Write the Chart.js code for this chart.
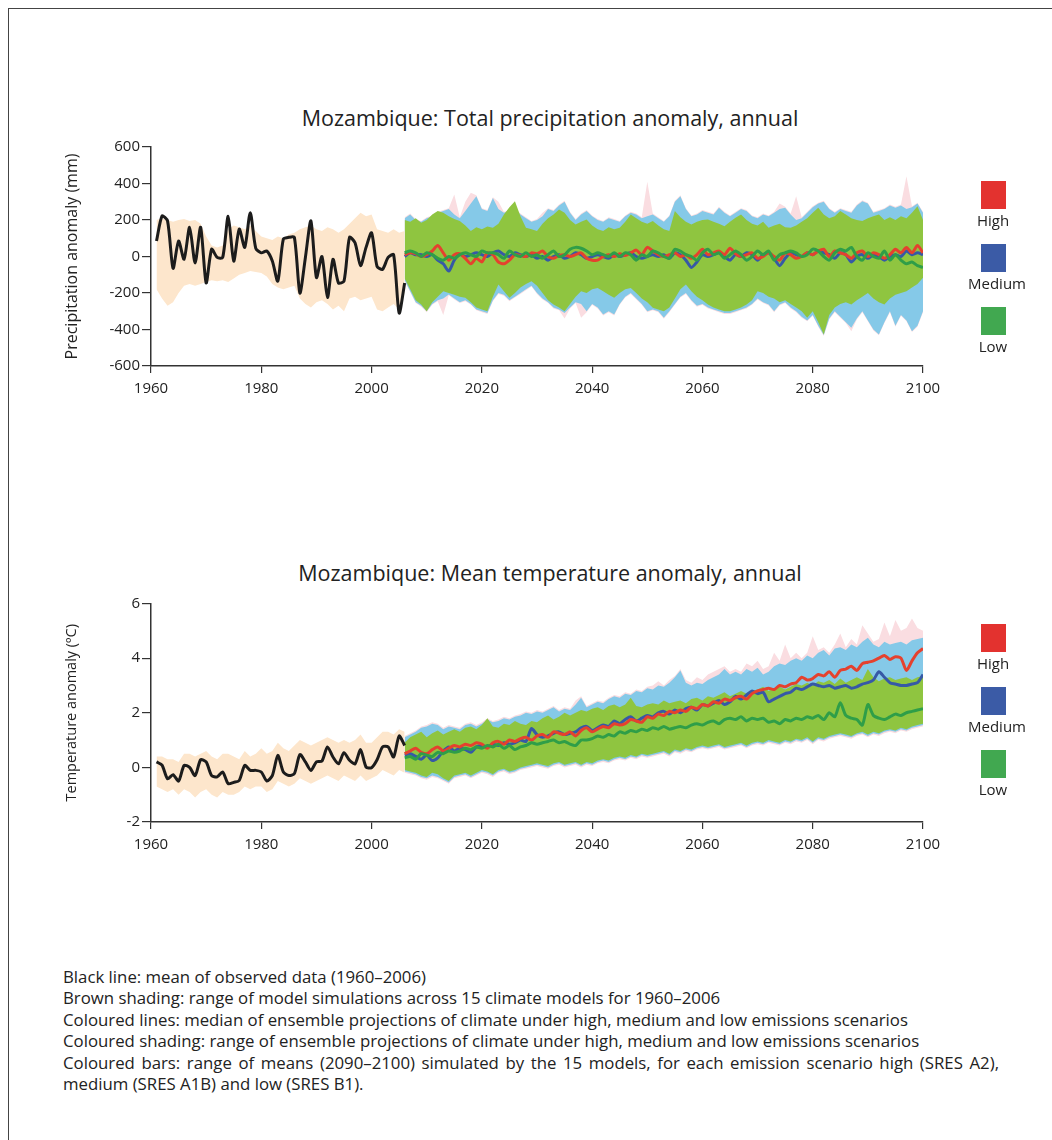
<!DOCTYPE html>
<html>
<head>
<meta charset="utf-8">
<title>Mozambique climate anomalies</title>
<script src="https://cdn.jsdelivr.net/npm/chart.js@4.4.0/dist/chart.umd.min.js"></script>
<style>
  body { margin: 0; background: #fff; font-family: "Open Sans", sans-serif; color: #222; }
  #page { position: relative; width: 1052px; height: 1140px; overflow: hidden; }
  #frame { position: absolute; left: 8px; top: 8px; width: 1100px; height: 1200px;
           border-left: 1.5px solid #444; border-top: 1.5px solid #444; }
  .title { position: absolute; left: 0; width: 1100px; text-align: center;
           font-size: 21.5px; line-height: 24px; white-space: nowrap; }
  canvas { position: absolute; left: 0; }
  .legend { position: absolute; left: 968px; width: 50px; text-align: center; font-size: 15px; }
  .legend .box { width: 25px; height: 28px; margin: 0 auto; }
  .legend .lab { line-height: 20px; height: 35px; padding-top: 1px; box-sizing: border-box; }
  #notes { position: absolute; left: 63px; top: 966px; width: 936px;
           font-size: 16.8px; line-height: 21.4px; }
  #notes div { white-space: nowrap; }
  #notes .just { text-align: justify; text-align-last: justify; }
</style>
</head>
<body>
<div id="page">
  <div id="frame"></div>

  <div class="title" style="top:106px">Mozambique: Total precipitation anomaly, annual</div>
  <canvas id="precip" width="1052" height="270" style="top:130px"></canvas>
  <div class="legend" style="top:181px">
    <div class="box" style="background:#e3322f"></div><div class="lab">High</div>
    <div class="box" style="background:#3b5ba6"></div><div class="lab">Medium</div>
    <div class="box" style="background:#41a850"></div><div class="lab">Low</div>
  </div>

  <div class="title" style="top:561px">Mozambique: Mean temperature anomaly, annual</div>
  <canvas id="temp" width="1052" height="276" style="top:580px"></canvas>
  <div class="legend" style="top:624px">
    <div class="box" style="background:#e3322f"></div><div class="lab">High</div>
    <div class="box" style="background:#3b5ba6"></div><div class="lab">Medium</div>
    <div class="box" style="background:#41a850"></div><div class="lab">Low</div>
  </div>

  <div id="notes">
    <div>Black line: mean of observed data (1960–2006)</div>
    <div>Brown shading: range of model simulations across 15 climate models for 1960–2006</div>
    <div>Coloured lines: median of ensemble projections of climate under high, medium and low emissions scenarios</div>
    <div>Coloured shading: range of ensemble projections of climate under high, medium and low emissions scenarios</div>
    <div class="just">Coloured bars: range of means (2090–2100) simulated by the 15 models, for each emission scenario high (SRES A2),</div>
    <div>medium (SRES A1B) and low (SRES B1).</div>
  </div>
</div>

<script>
// observed years start at 1961, projections at 2006 (one value per year)
var obsStart = 1961;
var projStart = 2006;

// ---- precipitation (mm) ----
var obsPrecip = [85, 222, 195, -65, 85, -15, 160, -35, 160, -145, 40, -5, -5, 220, -25, 150, 50, 240, 45, 20,
  30, -25, -135, 95, 105, 105, -200, -5, 195, -115, 0, -225, -15, -145, -135, 105, 75, -50, 50, 130,
  -55, -70, -5, 10, -310, -145];
var histHiPrecip = [200, 210, 200, 190, 200, 205, 195, 200, 180, 110, 60, 50, 60, 150, 170, 160, 150, 170, 140, 110,
  100, 90, 110, 100, 120, 130, 150, 160, 170, 150, 140, 160, 150, 130, 150, 180, 210, 240, 220, 230,
  150, 140, 130, 150, 130, 140];
var histLoPrecip = [-180, -230, -270, -250, -200, -160, -150, -160, -150, -140, -130, -135, -130, -140, -120, -100, -90, -80, -85, -90,
  -110, -150, -170, -180, -170, -160, -230, -260, -280, -250, -240, -260, -290, -270, -300, -230, -220, -240, -230, -220,
  -290, -300, -280, -260, -290, -200];

var highMedPrecip = [10, 20, 15, 0, 10, 30, 60, 20, -20, 10,
  15, -10, -40, -10, -30, 20, 10, -30, -40, -20,
  10, 5, 0, 20, 15, 30, 0, -10, 5, 10,
  0, 10, 20, -10, -20, -20, 0, 10, 0, 15,
  5, 20, 35, 10, 50, 30, 10, 0, 10, 20,
  0, 10, -10, 10, 40, 10, 20, 30, 10, 45,
  15, 0, 10, 20, -10, 0, 20, 0, -20, 20,
  10, -10, 0, 20, 10, 30, 40, 0, 30, 20,
  10, -10, 20, 30, 0, 20, 10, -10, 10, 40,
  20, 50, 20, 60, 20];
var medMedPrecip = [0, 20, 10, 10, 0, 10, -20, -40, -80, -20,
  10, 0, 10, 20, 10, 0, 20, 30, 10, 0,
  20, 10, 0, 10, -10, 0, -20, 0, 10, -10,
  0, 20, 10, -10, 0, 10, 0, -10, 10, 0,
  10, 20, 0, -10, 0, 10, 0, 10, -10, 20,
  10, -20, -60, -30, 10, 0, 10, 20, 0, -20,
  10, 0, 20, 10, -20, 10, 20, -10, -50, -10,
  20, 10, 0, 20, 10, 30, 20, 10, -10, 20,
  10, -30, 0, 10, -10, 10, 0, -20, 0, 10,
  0, 30, 10, 20, 10];
var lowMedPrecip = [20, 30, 20, 0, 20, 10, -10, -20, 0, -10,
  10, 20, 10, 0, 30, 20, 20, 10, -10, 30,
  10, 0, 20, 0, 10, -10, 10, 30, 0, 10,
  40, 50, 45, 30, 10, 20, 10, 0, 20, 0,
  20, 10, -20, 10, 0, 30, 20, 0, -10, 40,
  30, 10, 0, -20, 20, 40, 10, 20, -10, 10,
  30, 10, -20, 0, 30, 10, 30, -20, 10, 20,
  30, 20, 0, 10, 40, 30, 0, -20, 20, 40,
  30, 50, 0, -20, 20, 0, -10, 30, -20, 10,
  -20, -40, -30, -50, -60];

// pink (high) range mostly sits just outside the blue one, with a few spikes
var highHiPrecip = [215, 235, 205, 195, 215, 225, 245, 255, 265, 340,
  215, 300, 350, 335, 265, 255, 325, 300, 245, 255,
  265, 235, 215, 195, 205, 240, 265, 255, 285, 305,
  245, 205, 235, 255, 225, 205, 195, 215, 205, 195,
  225, 245, 235, 215, 410, 235, 215, 195, 225, 305,
  335, 265, 225, 235, 255, 245, 235, 272, 245, 225,
  245, 265, 255, 225, 215, 235, 225, 245, 290, 272,
  235, 330, 215, 245, 275, 295, 305, 265, 245, 265,
  255, 245, 285, 308, 295, 245, 255, 265, 285, 272,
  285, 440, 275, 295, 245];
var highLoPrecip = [-135, -195, -255, -275, -305, -265, -245, -320, -213, -235,
  -255, -245, -265, -295, -305, -315, -245, -205, -215, -245,
  -225, -205, -185, -165, -205, -235, -255, -285, -295, -340,
  -285, -255, -335, -305, -265, -285, -323, -305, -323, -265,
  -225, -205, -235, -265, -305, -295, -305, -341, -305, -265,
  -225, -205, -245, -275, -265, -285, -295, -305, -315, -315,
  -305, -295, -285, -265, -235, -255, -268, -305, -268, -255,
  -285, -305, -335, -355, -325, -385, -435, -345, -305, -335,
  -365, -410, -345, -305, -355, -405, -432, -365, -305, -385,
  -325, -355, -414, -385, -305];
var medHiPrecip = [210, 230, 200, 190, 210, 220, 240, 250, 260, 230,
  210, 250, 290, 330, 260, 250, 320, 260, 240, 250,
  260, 230, 210, 190, 200, 220, 260, 250, 280, 300,
  240, 200, 230, 250, 220, 200, 190, 210, 200, 190,
  220, 240, 230, 210, 220, 230, 210, 190, 220, 300,
  330, 260, 220, 230, 250, 240, 230, 267, 240, 220,
  240, 260, 250, 220, 210, 230, 220, 240, 260, 267,
  230, 200, 210, 240, 270, 290, 300, 260, 240, 260,
  250, 240, 280, 303, 290, 240, 250, 260, 280, 267,
  280, 260, 270, 290, 240];
var medLoPrecip = [-130, -190, -250, -270, -300, -260, -240, -230, -208, -230,
  -250, -240, -260, -290, -300, -310, -240, -200, -210, -240,
  -220, -200, -180, -160, -200, -230, -250, -280, -290, -310,
  -280, -250, -260, -300, -260, -280, -318, -300, -318, -260,
  -220, -200, -230, -260, -300, -290, -300, -336, -300, -260,
  -220, -200, -240, -270, -260, -280, -290, -300, -310, -310,
  -300, -290, -280, -260, -230, -250, -263, -300, -263, -250,
  -280, -300, -330, -350, -320, -380, -430, -340, -300, -330,
  -360, -390, -340, -300, -350, -400, -427, -360, -300, -380,
  -320, -350, -409, -380, -300];
var lowHiPrecip = [200, 190, 210, 185, 200, 230, 250, 240, 220, 205,
  195, 170, 140, 160, 150, 165, 157, 180, 230, 270,
  303, 220, 157, 150, 140, 180, 210, 230, 258, 240,
  200, 175, 190, 203, 170, 150, 140, 160, 150, 157,
  190, 230, 210, 190, 180, 195, 170, 150, 140, 250,
  215, 190, 175, 190, 200, 203, 190, 180, 166, 190,
  212, 230, 200, 180, 170, 190, 157, 170, 180, 160,
  157, 170, 190, 210, 240, 267, 230, 210, 220, 250,
  230, 210, 200, 195, 210, 220, 230, 200, 215, 200,
  221, 210, 240, 276, 200];
var lowLoPrecip = [-120, -180, -240, -263, -300, -250, -220, -190, -200, -210,
  -220, -226, -250, -280, -290, -300, -220, -153, -190, -226,
  -200, -170, -150, -135, -160, -200, -240, -263, -280, -300,
  -260, -220, -190, -200, -180, -172, -190, -210, -226, -200,
  -180, -172, -200, -230, -250, -281, -290, -300, -280, -230,
  -180, -153, -190, -220, -240, -263, -280, -290, -300, -300,
  -290, -280, -263, -240, -190, -200, -220, -230, -250, -240,
  -260, -280, -300, -336, -300, -360, -427, -320, -280, -260,
  -250, -263, -240, -220, -200, -230, -250, -263, -230, -210,
  -200, -190, -170, -150, -117];

// ---- temperature (deg C) ----
var obsTemp = [0.2, 0.08, -0.42, -0.27, -0.5, 0.07, 0.0, -0.3, 0.28, 0.2, -0.3, -0.35, -0.17, -0.6, -0.55, -0.48,
  0.07, -0.11, -0.11, -0.17, -0.5, -0.3, 0.44, -0.17, -0.3, -0.23, 0.47, 0.2, -0.11, 0.2, 0.23, 0.75,
  0.38, 0.13, 0.54, 0.26, 0.13, 0.65, 0.01, -0.01, 0.28, 0.75, 0.75, 0.38, 1.15, 0.8];
var histHiTemp = [0.4, 0.4, 0.3, 0.3, 0.2, 0.5, 0.5, 0.4, 0.5, 0.6, 0.4, 0.3, 0.5, 0.5, 0.4, 0.3,
  0.6, 0.4, 0.5, 0.7, 0.5, 0.6, 0.9, 0.7, 0.6, 0.8, 1.0, 0.9, 0.8, 0.9, 1.0, 1.1,
  1.0, 0.9, 1.0, 0.9, 1.0, 1.2, 0.9, 0.9, 1.1, 1.3, 1.3, 1.2, 1.4, 1.3];
var histLoTemp = [-0.7, -0.8, -0.9, -0.8, -1.0, -0.8, -0.9, -1.1, -0.9, -0.8, -1.0, -1.1, -0.9, -1.0, -1.0, -0.9,
  -0.7, -0.8, -0.7, -0.7, -0.9, -0.8, -0.5, -0.6, -0.7, -0.6, -0.4, -0.5, -0.6, -0.5, -0.4, -0.3,
  -0.4, -0.5, -0.3, -0.4, -0.5, -0.3, -0.5, -0.4, -0.3, -0.1, -0.2, -0.3, -0.1, -0.2];

var highMedTemp = [0.5, 0.6, 0.7, 0.55, 0.5, 0.65, 0.75, 0.6, 0.7, 0.8,
  0.75, 0.85, 0.8, 0.9, 0.85, 0.7, 0.9, 0.95, 0.85, 1.0,
  0.95, 1.05, 1.1, 1.0, 1.15, 1.2, 1.1, 1.3, 1.25, 1.2,
  1.3, 1.15, 1.35, 1.45, 1.3, 1.4, 1.5, 1.45, 1.6, 1.55,
  1.6, 1.75, 1.7, 1.65, 1.85, 1.8, 1.95, 1.9, 2.05, 2.0,
  2.1, 2.05, 2.2, 2.15, 2.3, 2.25, 2.4, 2.35, 2.5, 2.45,
  2.55, 2.6, 2.5, 2.7, 2.8, 2.85, 2.9, 2.85, 3.0, 2.95,
  3.05, 3.1, 3.3, 3.2, 3.25, 3.4, 3.35, 3.5, 3.3, 3.55,
  3.6, 3.7, 3.55, 3.8, 3.85, 3.9, 4.0, 4.1, 3.95, 4.05,
  4.0, 3.55, 3.9, 4.2, 4.35];
var medMedTemp = [0.45, 0.5, 0.4, 0.3, 0.45, 0.25, 0.35, 0.6, 0.75, 0.6,
  0.7, 0.65, 0.55, 0.75, 0.8, 0.75, 0.85, 0.8, 0.9, 0.85,
  0.9, 1.0, 0.95, 1.42, 1.2, 1.1, 1.15, 1.25, 1.3, 1.2,
  1.25, 1.3, 1.45, 1.5, 1.35, 1.45, 1.55, 1.5, 1.7, 1.6,
  1.75, 1.85, 1.7, 1.8, 1.9, 1.85, 2.0, 2.05, 1.95, 2.1,
  2.0, 2.15, 2.2, 2.1, 2.3, 2.25, 2.35, 2.45, 2.3, 2.4,
  2.6, 2.5, 2.65, 2.8, 2.7, 2.75, 2.4, 2.5, 2.6, 2.7,
  2.75, 2.9, 2.85, 2.95, 3.05, 3.0, 2.95, 3.0, 2.9, 2.95,
  3.0, 2.9, 2.95, 3.05, 3.1, 3.2, 3.5, 3.3, 3.1, 3.05,
  3.0, 3.0, 3.05, 3.1, 3.4];
var lowMedTemp = [0.35, 0.4, 0.3, 0.5, 0.45, 0.4, 0.55, 0.5, 0.6, 0.55,
  0.6, 0.7, 0.65, 0.75, 0.7, 0.8, 0.75, 0.85, 0.7, 0.8,
  0.65, 0.75, 0.8, 0.9, 0.85, 0.9, 0.95, 1.0, 0.9, 0.95,
  0.85, 0.8, 1.0, 1.0, 1.05, 1.15, 1.1, 1.2, 1.15, 1.3,
  1.25, 1.35, 1.3, 1.4, 1.35, 1.45, 1.4, 1.5, 1.4, 1.45,
  1.5, 1.45, 1.55, 1.6, 1.55, 1.65, 1.7, 1.6, 1.75, 1.8,
  1.75, 1.85, 1.7, 1.8, 1.75, 1.8, 1.65, 1.7, 1.6, 1.75,
  1.7, 1.8, 1.75, 1.85, 1.8, 1.9, 1.75, 2.0, 1.85, 2.37,
  1.9, 1.8, 1.75, 1.55, 2.3, 1.9, 1.8, 1.75, 1.85, 1.95,
  1.9, 2.0, 2.05, 2.1, 2.15];

var highHiTemp = [1.15, 1.25, 1.35, 1.5, 1.55, 1.65, 1.6, 1.45, 1.55, 1.5,
  1.45, 1.6, 1.65, 1.55, 1.65, 1.8, 1.7, 1.75, 1.85, 1.8,
  1.9, 1.95, 2.05, 2.0, 2.1, 2.05, 2.15, 2.25, 2.1, 2.2,
  2.15, 2.45, 2.6, 2.25, 2.35, 2.45, 2.4, 2.55, 2.65, 2.6,
  2.75, 2.7, 2.85, 2.8, 2.95, 3.0, 3.15, 3.0, 3.2, 3.35,
  3.6, 3.2, 3.1, 3.3, 3.2, 3.4, 3.5, 3.6, 3.7, 3.5,
  3.6, 3.5, 3.8, 3.7, 3.9, 3.6, 3.7, 4.2, 3.9, 4.5,
  4.0, 4.2, 4.0, 4.2, 4.8, 4.3, 4.4, 4.2, 4.5, 4.9,
  4.4, 4.7, 4.5, 5.2, 4.9, 4.6, 4.7, 5.3, 4.8, 5.4,
  5.0, 5.1, 5.45, 5.1, 5.0];
var highLoTemp = [-0.2, -0.25, -0.3, -0.4, -0.45, -0.35, -0.4, -0.5, -0.6, -0.4,
  -0.35, -0.3, -0.4, -0.3, -0.2, -0.25, -0.35, -0.2, -0.15, -0.25,
  -0.2, -0.1, -0.05, 0.0, 0.05, 0.0, -0.05, 0.05, 0.1, 0.0,
  0.05, 0.1, 0.0, 0.1, 0.05, 0.15, 0.2, 0.15, 0.25, 0.3,
  0.25, 0.35, 0.3, 0.4, 0.35, 0.4, 0.45, 0.5, 0.4, 0.55,
  0.5, 0.6, 0.55, 0.65, 0.7, 0.65, 0.7, 0.75, 0.65, 0.7,
  0.75, 0.8, 0.7, 0.8, 0.85, 0.8, 0.9, 0.85, 0.8, 0.9,
  0.85, 0.95, 0.9, 1.0, 0.85, 1.0, 0.95, 1.05, 1.1, 1.15,
  1.1, 1.05, 1.15, 1.2, 1.1, 1.2, 1.15, 1.25, 1.3, 1.25,
  1.35, 1.3, 1.4, 1.45, 1.5];
var medHiTemp = [1.1, 1.2, 1.3, 1.45, 1.5, 1.6, 1.55, 1.4, 1.5, 1.45,
  1.4, 1.55, 1.6, 1.5, 1.6, 1.75, 1.65, 1.7, 1.8, 1.75,
  1.85, 1.9, 2.0, 1.95, 2.05, 2.0, 2.1, 2.2, 2.05, 2.15,
  2.1, 2.3, 2.55, 2.2, 2.3, 2.4, 2.35, 2.5, 2.6, 2.55,
  2.7, 2.65, 2.8, 2.75, 2.9, 2.85, 3.0, 2.95, 3.1, 3.3,
  3.55, 3.1, 3.0, 3.1, 3.05, 3.2, 3.3, 3.4, 3.6, 3.4,
  3.5, 3.4, 3.6, 3.5, 3.65, 3.4, 3.5, 3.7, 3.8, 3.75,
  3.9, 4.0, 3.9, 4.1, 4.0, 4.2, 4.3, 4.1, 4.35, 4.4,
  4.3, 4.5, 4.4, 4.6, 4.75, 4.5, 4.4, 4.6, 4.5, 4.55,
  4.6, 4.5, 4.65, 4.7, 4.75];
var medLoTemp = [-0.15, -0.2, -0.25, -0.35, -0.4, -0.3, -0.35, -0.45, -0.55, -0.35,
  -0.3, -0.25, -0.35, -0.25, -0.15, -0.2, -0.3, -0.15, -0.1, -0.2,
  -0.15, -0.05, 0.0, 0.05, 0.1, 0.05, 0.0, 0.1, 0.15, 0.05,
  0.1, 0.15, 0.05, 0.15, 0.1, 0.2, 0.25, 0.2, 0.3, 0.35,
  0.3, 0.4, 0.35, 0.45, 0.4, 0.45, 0.5, 0.55, 0.45, 0.6,
  0.55, 0.65, 0.6, 0.7, 0.75, 0.7, 0.75, 0.8, 0.7, 0.75,
  0.8, 0.85, 0.75, 0.85, 0.9, 0.85, 0.95, 0.9, 0.85, 0.95,
  0.9, 1.0, 0.95, 1.05, 0.9, 1.05, 1.0, 1.1, 1.15, 1.2,
  1.15, 1.1, 1.2, 1.25, 1.15, 1.25, 1.2, 1.3, 1.35, 1.3,
  1.4, 1.35, 1.45, 1.5, 1.55];
var lowHiTemp = [0.9, 1.1, 1.2, 1.3, 1.1, 1.25, 1.35, 1.2, 1.3, 1.4,
  1.3, 1.45, 1.5, 1.4, 1.55, 1.8, 1.5, 1.45, 1.6, 1.55,
  1.7, 1.6, 1.55, 1.7, 1.65, 1.8, 1.9, 1.75, 1.85, 2.0,
  1.9, 2.0, 2.1, 2.05, 2.15, 2.2, 2.1, 2.25, 2.3, 2.2,
  2.3, 2.55, 2.25, 2.2, 2.3, 2.35, 2.3, 2.45, 2.35, 2.4,
  2.45, 2.35, 2.5, 2.55, 2.45, 2.6, 2.55, 2.65, 2.75, 2.6,
  2.7, 2.8, 2.7, 2.8, 2.85, 2.95, 2.8, 2.9, 2.95, 2.85,
  2.95, 3.05, 3.0, 3.1, 3.0, 3.15, 3.1, 3.2, 3.05, 3.25,
  3.1, 3.2, 3.3, 3.2, 3.6, 3.3, 3.15, 3.25, 3.3, 3.2,
  3.25, 3.3, 3.2, 3.3, 3.35];
var lowLoTemp = [-0.1, -0.15, -0.2, -0.3, -0.35, -0.2, -0.25, -0.4, -0.5, -0.3,
  -0.25, -0.2, -0.3, -0.2, -0.1, -0.15, -0.25, -0.1, -0.05, -0.15,
  -0.1, 0.0, 0.05, 0.1, 0.15, 0.1, 0.05, 0.15, 0.2, 0.1,
  0.15, 0.2, 0.1, 0.2, 0.15, 0.25, 0.3, 0.25, 0.35, 0.4,
  0.35, 0.45, 0.4, 0.5, 0.45, 0.5, 0.55, 0.6, 0.5, 0.65,
  0.6, 0.7, 0.65, 0.75, 0.8, 0.75, 0.8, 0.85, 0.75, 0.8,
  0.85, 0.9, 0.8, 0.9, 0.95, 0.9, 1.0, 0.95, 0.9, 1.0,
  0.95, 1.05, 1.0, 1.1, 0.95, 1.1, 1.05, 1.15, 1.2, 1.25,
  1.2, 1.15, 1.25, 1.3, 1.2, 1.3, 1.25, 1.35, 1.4, 1.35,
  1.45, 1.4, 1.5, 1.55, 1.6];

var xTicks = { min: 1960, max: 2100, step: 20 };
var precipTicks = { min: -600, max: 600, step: 200 };
var tempTicks = { min: -2, max: 6, step: 2 };

var colors = {
  obs: '#1c1c1c',
  hist: '#fde6cc',
  high: '#e5412e',
  medium: '#3659a6',
  low: '#2f9e48',
  highBand: '#fadde1',
  mediumBand: '#85c9e8',
  lowBand: '#8fc540'
};

function points(start, values) {
  return values.map(function(v, i) { return { x: start + i, y: v }; });
}

// a median line
function line(start, values, color, order) {
  return {
    data: points(start, values),
    borderColor: color,
    borderWidth: 3,
    tension: 0.25,
    pointRadius: 0,
    fill: false,
    order: order
  };
}

// an invisible bound; the upper one fills down to the lower one
function bound(start, values, color, target, order) {
  return {
    data: points(start, values),
    borderColor: 'transparent',
    borderWidth: 0,
    pointRadius: 0,
    backgroundColor: color,
    fill: target === null ? false : { target: target },
    order: order
  };
}

function buildDatasets(s) {
  return [
    line(obsStart, s.obs, colors.obs, 0),                       // 0
    line(projStart, s.lowMed, colors.low, 1),                   // 1
    line(projStart, s.highMed, colors.high, 2),                 // 2
    line(projStart, s.medMed, colors.medium, 3),                // 3
    bound(obsStart, s.histHi, colors.hist, 5, 10),              // 4
    bound(obsStart, s.histLo, colors.hist, null, 10),           // 5
    bound(projStart, s.lowHi, colors.lowBand, 7, 11),           // 6
    bound(projStart, s.lowLo, colors.lowBand, null, 11),        // 7
    bound(projStart, s.medHi, colors.mediumBand, 9, 12),        // 8
    bound(projStart, s.medLo, colors.mediumBand, null, 12),     // 9
    bound(projStart, s.highHi, colors.highBand, 11, 13),        // 10
    bound(projStart, s.highLo, colors.highBand, null, 13)       // 11
  ];
}

var tickFont = { family: '"Open Sans", sans-serif', size: 15 };
var axisColor = '#333';

function makeChart(id, series, yTicks, yTitle, titleSize, padTop) {
  var ctx = document.getElementById(id).getContext('2d');
  return new Chart(ctx, {
    type: 'line',
    data: { datasets: buildDatasets(series) },
    options: {
      responsive: false,
      animation: false,
      events: [],
      layout: { padding: { left: 0, right: 129, top: padTop, bottom: 0 } },
      plugins: { legend: { display: false }, tooltip: { enabled: false } },
      scales: {
        x: {
          type: 'linear',
          min: xTicks.min,
          max: xTicks.max,
          afterFit: function(s) { s.height = 34; },
          border: { display: true, color: axisColor, width: 1.5 },
          grid: { drawOnChartArea: false, drawTicks: true, tickLength: 7, color: axisColor, lineWidth: 1.2 },
          ticks: { stepSize: xTicks.step, color: '#222', font: tickFont, padding: 7,
                   maxRotation: 0, callback: function(v) { return String(v); } }
        },
        y: {
          min: yTicks.min,
          max: yTicks.max,
          afterFit: function(s) { s.width = 151; },
          border: { display: true, color: axisColor, width: 1.5 },
          grid: { drawOnChartArea: false, drawTicks: true, tickLength: 9, color: axisColor, lineWidth: 1.2 },
          ticks: { stepSize: yTicks.step, color: '#222', font: tickFont, padding: 2,
                   callback: function(v) { return String(v); } },
          title: { display: true, text: yTitle, color: '#222',
                   font: { family: '"Open Sans", sans-serif', size: titleSize },
                   padding: { top: 72 - titleSize * 0.6, bottom: 0 } }
        }
      }
    }
  });
}

makeChart('precip', {
  obs: obsPrecip, histHi: histHiPrecip, histLo: histLoPrecip,
  highMed: highMedPrecip, medMed: medMedPrecip, lowMed: lowMedPrecip,
  highHi: highHiPrecip, highLo: highLoPrecip, medHi: medHiPrecip, medLo: medLoPrecip,
  lowHi: lowHiPrecip, lowLo: lowLoPrecip
}, precipTicks, 'Precipitation anomaly (mm)', 16, 17);

makeChart('temp', {
  obs: obsTemp, histHi: histHiTemp, histLo: histLoTemp,
  highMed: highMedTemp, medMed: medMedTemp, lowMed: lowMedTemp,
  highHi: highHiTemp, highLo: highLoTemp, medHi: medHiTemp, medLo: medLoTemp,
  lowHi: lowHiTemp, lowLo: lowLoTemp
}, tempTicks, 'Temperature anomaly (ºC)', 14.5, 23.5);
</script>
</body>
</html>
